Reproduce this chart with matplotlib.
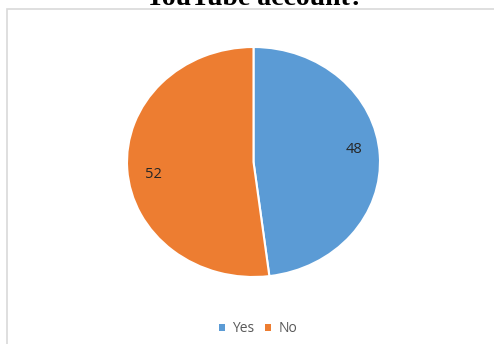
import matplotlib

matplotlib.use("Agg")
import numpy as np
import matplotlib.pyplot as plt
from matplotlib.patches import Patch, Rectangle

labels = ["Yes", "No"]
counts = [48, 52]
colors = ["#5B9BD5", "#ED7D31"]

W, H = 494, 344
fig = plt.figure(figsize=(W / 100, H / 100), dpi=100)

# chart frame (runs off the right and bottom edges)
fig.patches.append(Rectangle((6.5 / W, -0.05), 1.2, 1.05 - 9 / H, transform=fig.transFigure,
                             fill=False, edgecolor="#D9D9D9", linewidth=1.2))

fig.text(254 / W, 1 - 5 / H, "YouTube account?", ha="center", va="baseline",
         fontsize=20, fontweight="bold", family="Liberation Serif")

ax = fig.add_axes([127 / W, 1 - 277 / H, 253 / W, 230 / H])
total = sum(counts)
wedges, _, autotexts = ax.pie(
    counts, colors=colors, startangle=90, counterclock=False,
    autopct=lambda p: f"{p * total / 100:.0f}", pctdistance=0.8,
    wedgeprops=dict(edgecolor="white", linewidth=1.5),
    textprops=dict(fontsize=10.5, color="#262626", family="Open Sans"),
)
# nudge value labels a little counter-clockwise of the wedge middle
for w, t in zip(wedges, autotexts):
    ang = np.deg2rad((w.theta1 + w.theta2) / 2 + 4.5)
    t.set_position((0.8 * np.cos(ang), 0.8 * np.sin(ang)))
ax.set_aspect("auto")
ax.set_xlim(-1, 1)
ax.set_ylim(-1, 1)
ax.axis("off")

handles = [Patch(facecolor=c, label=l) for c, l in zip(colors, labels)]
fig.legend(handles=handles, loc="center", bbox_to_anchor=(258 / W, 1 - 329 / H), ncol=2,
           frameon=False, handlelength=0.45, handleheight=0.45, handletextpad=0.5,
           columnspacing=0.8, prop=dict(size=10, family="Open Sans"), labelcolor="#595959")

fig.savefig("out.png", dpi=100)
